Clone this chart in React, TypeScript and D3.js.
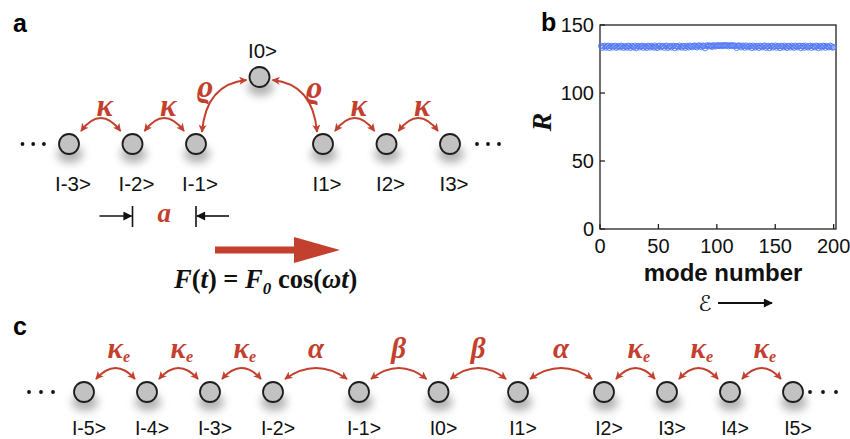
import * as d3 from "d3";

// ---- panel b data: R for each mode number ----
const rValues = [
  134.6, 133.2, 134.1, 134.7, 133.4, 134.3, 134.8, 133.1, 134.2, 134.6, 133.5, 134.4, 134.7, 133.3, 134.0, 134.5, 133.6, 134.8, 134.2, 133.2,
  134.5, 134.0, 133.4, 134.7, 134.3, 133.1, 134.6, 134.1, 133.5, 134.8, 133.0, 134.4, 134.6, 133.6, 134.2, 134.7, 133.3, 134.5, 134.0, 133.2,
  134.7, 134.3, 133.5, 134.6, 134.1, 133.4, 134.8, 134.0, 133.1, 134.5, 134.7, 133.6, 134.2, 134.6, 133.3, 134.4, 134.8, 133.2, 134.1, 134.6,
  133.5, 134.3, 134.7, 133.0, 134.5, 134.2, 133.6, 134.8, 134.0, 133.4, 134.6, 134.3, 133.2, 134.7, 134.1, 133.5, 134.8, 134.4, 133.7, 134.6,
  134.9, 134.2, 133.6, 134.7, 135.0, 134.3, 133.8, 134.9, 134.5, 133.0, 134.8, 135.0, 134.4, 134.9, 134.6, 133.9, 135.1, 134.7, 134.3, 135.0,
  134.8, 135.1, 134.5, 134.9, 135.0, 134.6, 135.2, 134.8, 135.0, 134.4, 135.1, 134.7, 134.9, 135.0, 134.5, 134.8, 133.1, 134.6, 135.0, 134.3,
  133.6, 134.8, 134.5, 133.3, 134.9, 134.2, 133.7, 134.7, 134.4, 133.1, 134.8, 134.0, 133.5, 134.6, 134.3, 133.2, 134.7, 134.1, 133.6, 134.5,
  134.8, 133.3, 134.2, 134.6, 133.0, 134.4, 134.7, 133.5, 134.1, 134.8, 133.4, 134.5, 134.2, 133.1, 134.7, 134.3, 133.6, 134.8, 134.0, 133.2,
  134.6, 134.4, 133.5, 134.7, 134.1, 133.3, 134.8, 134.2, 133.6, 134.5, 134.7, 133.1, 134.3, 134.6, 133.4, 134.8, 134.0, 133.5, 134.4, 134.7,
  133.2, 134.5, 134.1, 133.6, 134.8, 134.3, 133.0, 134.6, 134.2, 133.5, 134.7, 134.4, 133.3, 134.5, 134.0, 133.6, 134.8, 134.2, 133.4, 133.8,
];
const xTicks = [0, 50, 100, 150, 200];
const yTicks = [0, 50, 100, 150];

// ---- panel a: chain with a raised |0> site ----
const chainA = [-3, -2, -1, 1, 2, 3];
const couplingsA = [
  { from: -3, to: -2, label: "κ" },
  { from: -2, to: -1, label: "κ" },
  { from: 1, to: 2, label: "κ" },
  { from: 2, to: 3, label: "κ" },
];

// ---- panel c: chain with alpha / beta defects ----
const chainC = [-5, -4, -3, -2, -1, 0, 1, 2, 3, 4, 5];
const gapNames = ["κe", "κe", "κe", "α", "β", "β", "α", "κe", "κe", "κe"];

const RED = "#c4402e";
const BLUE = "#5479f5";
const SANS = "'Liberation Sans', Arial, sans-serif";
const SERIF = "'Liberation Serif', 'Times New Roman', serif";

const Node = ({ x, y }: { x: number; y: number }) => (
  <g>
    <ellipse cx={x + 1} cy={y + 10} rx={13} ry={9} fill="#808080" opacity={0.6} filter="url(#soft)" />
    <circle cx={x} cy={y} r={10} fill="#c2c2c2" stroke="#1e1e1e" strokeWidth={1.8} />
  </g>
);

const Dots = ({ x, y, step }: { x: number; y: number; step: number }) => (
  <g fill="#111">
    {[0, 1, 2].map((i) => (
      <circle key={i} cx={x + i * step} cy={y} r={1.9} />
    ))}
  </g>
);

const arcPath = (x0: number, y0: number, cx: number, cy: number, x1: number, y1: number) => {
  const p = d3.path();
  p.moveTo(x0, y0);
  p.quadraticCurveTo(cx, cy, x1, y1);
  return p.toString();
};

export default function App() {
  // panel a layout
  const xA = d3.scaleLinear().domain([-3, 3]).range([69, 450]);
  const yA = 144;
  const yA0 = 77;

  // panel c layout: cumulative gaps
  const gapPx: Record<string, number> = { κe: 63, α: 86, β: 79.5 };
  const posC: number[] = [84];
  gapNames.forEach((g) => posC.push(posC[posC.length - 1] + gapPx[g]));
  const yC = 392;

  // panel b scales
  const x = d3.scaleLinear().domain([0, 202]).range([600, 836]);
  const y = d3.scaleLinear().domain([0, 150]).range([229, 25]);
  const modes = d3.range(1, rValues.length + 1);

  const x0 = xA(0);

  return (
    <svg width={850} height={439} style={{ position: "absolute", left: 0, top: 0, background: "#fff" }}>
      <defs>
        <filter id="soft" x="-60%" y="-60%" width="220%" height="220%">
          <feGaussianBlur stdDeviation={4} />
        </filter>
        <marker id="ah" viewBox="0 0 10 10" refX={9} refY={5} markerWidth={9} markerHeight={8}
          markerUnits="userSpaceOnUse" orient="auto-start-reverse">
          <path d="M0,0 L10,5 L0,10 L2.5,5 z" fill={RED} />
        </marker>
        <marker id="ahk" viewBox="0 0 10 10" refX={9} refY={5} markerWidth={10} markerHeight={9}
          markerUnits="userSpaceOnUse" orient="auto">
          <path d="M0,0 L10,5 L0,10 z" fill="#111" />
        </marker>
      </defs>

      {/* ================= panel a ================= */}
      <text x={13} y={32} fontFamily={SANS} fontWeight="bold" fontSize={25}>a</text>

      {/* couplings */}
      <g fill="none" stroke={RED} strokeWidth={2}>
        {couplingsA.map((c, i) => {
          const a = xA(c.from), b = xA(c.to);
          return (
            <path key={i} d={arcPath(a + 12, yA - 13, (a + b) / 2, yA - 39, b - 12, yA - 13)}
              markerStart="url(#ah)" markerEnd="url(#ah)" />
          );
        })}
        <path d={arcPath(xA(-1) + 6, yA - 12, xA(-1) + 10, yA0 + 7, x0 - 13, yA0 + 3)}
          markerStart="url(#ah)" markerEnd="url(#ah)" />
        <path d={arcPath(x0 + 13, yA0 + 3, xA(1) - 10, yA0 + 7, xA(1) - 6, yA - 12)}
          markerStart="url(#ah)" markerEnd="url(#ah)" />
      </g>
      <g fill={RED} fontFamily={SERIF} fontWeight="bold" fontStyle="italic" fontSize={31} textAnchor="middle">
        {couplingsA.map((c, i) => (
          <text key={i} x={(xA(c.from) + xA(c.to)) / 2 + 4} y={116}>{c.label}</text>
        ))}
        <text x={205} y={97}>ϱ</text>
        <text x={314} y={98}>ϱ</text>
      </g>

      {chainA.map((i) => <Node key={i} x={xA(i)} y={yA} />)}
      <Node x={x0} y={yA0} />
      <Dots x={22.5} y={yA} step={10.7} />
      <Dots x={477} y={yA} step={11} />

      <g fontFamily={SANS} fontSize={20.5} textAnchor="middle" fill="#111">
        {chainA.map((i) => (
          <text key={i} x={xA(i) + 4} y={191}>{`I${i}>`}</text>
        ))}
        <text x={x0 + 3} y={58}>I0&gt;</text>
      </g>

      {/* lattice spacing a */}
      <g stroke="#111" strokeWidth={1.6}>
        <line x1={xA(-2)} x2={xA(-2)} y1={206} y2={227} />
        <line x1={xA(-1)} x2={xA(-1)} y1={206} y2={227} />
        <line x1={xA(-2) - 33} x2={xA(-2) - 1} y1={216} y2={216} markerEnd="url(#ahk)" />
        <line x1={xA(-1) + 33} x2={xA(-1) + 1} y1={216} y2={216} markerEnd="url(#ahk)" />
      </g>
      <text x={(xA(-2) + xA(-1)) / 2} y={222} textAnchor="middle" fill={RED}
        fontFamily={SERIF} fontStyle="italic" fontWeight="bold" fontSize={27}>a</text>

      {/* driving force arrow */}
      <path d="M215,246.5 L294,246.5 L294,237 L340,250 L294,263 L294,253.5 L215,253.5 Z" fill={RED} />
      <text x={174} y={288} fontFamily={SERIF} fontWeight="bold" fontSize={26.5} fill="#111">
        <tspan fontStyle="italic">F</tspan>(<tspan fontStyle="italic">t</tspan>) = <tspan fontStyle="italic">F</tspan>
        <tspan fontStyle="italic" fontSize={17} dy={6}>0</tspan>
        <tspan dy={-6}> cos(</tspan><tspan fontStyle="italic">ωt</tspan>)
      </text>

      {/* ================= panel b ================= */}
      <text x={541} y={31} fontFamily={SANS} fontWeight="bold" fontSize={25}>b</text>
      <rect x={x(0)} y={y(150)} width={x(202) - x(0)} height={y(0) - y(150)} fill="none" stroke="#222" strokeWidth={1.3} />
      <g stroke="#222" strokeWidth={1.3}>
        {xTicks.map((t) => <line key={t} x1={x(t)} x2={x(t)} y1={y(0)} y2={y(0) - 5} />)}
        {yTicks.map((t) => <line key={t} x1={x(0)} x2={x(0) + 5} y1={y(t)} y2={y(t)} />)}
      </g>
      <g fontFamily={SANS} fontSize={20} fill="#111">
        {xTicks.map((t) => (
          <text key={t} x={x(t)} y={253} textAnchor="middle">{t}</text>
        ))}
        {yTicks.map((t) => (
          <text key={t} x={594} y={y(t) + 7} textAnchor="end">{t}</text>
        ))}
      </g>
      <g fill="none" stroke={BLUE} strokeWidth={0.9}>
        {modes.map((m, i) => (
          <circle key={m} cx={x(m)} cy={y(rValues[i])} r={2.7} />
        ))}
      </g>
      <text transform="translate(551,122) rotate(-90)" textAnchor="middle" fontFamily={SERIF}
        fontWeight="bold" fontStyle="italic" fontSize={28} fill="#111">R</text>
      <text x={723} y={281} textAnchor="middle" fontFamily={SANS} fontWeight="bold" fontSize={24} fill="#111">
        mode number
      </text>
      <text x={705} y={311} textAnchor="middle" fontFamily="'DejaVu Sans', sans-serif" fontSize={22} fill="#111">ℰ</text>
      <line x1={718} x2={772} y1={303} y2={303} stroke="#111" strokeWidth={1.8} markerEnd="url(#ahk)" />

      {/* ================= panel c ================= */}
      <text x={13} y={335} fontFamily={SANS} fontWeight="bold" fontSize={25}>c</text>
      <g fill="none" stroke={RED} strokeWidth={2}>
        {gapNames.map((g, i) => {
          const a = posC[i], b = posC[i + 1];
          return (
            <path key={i} d={arcPath(a + 12, yC - 13, (a + b) / 2, yC - 35, b - 12, yC - 13)}
              markerStart="url(#ah)" markerEnd="url(#ah)" />
          );
        })}
      </g>
      <g fill={RED} fontFamily={SERIF} fontWeight="bold" fontStyle="italic" fontSize={29}>
        {gapNames.map((g, i) => {
          const mid = (posC[i] + posC[i + 1]) / 2;
          return g === "κe" ? (
            <text key={i} x={mid - 8} y={358}>κ<tspan fontSize={16} dy={4}>e</tspan></text>
          ) : (
            <text key={i} x={mid} y={358} textAnchor="middle">{g}</text>
          );
        })}
      </g>
      {chainC.map((n, i) => <Node key={n} x={posC[i]} y={yC} />)}
      <Dots x={29} y={yC} step={12} />
      <Dots x={posC[posC.length - 1] + 17} y={yC} step={13} />
      <g fontFamily={SANS} fontSize={19.5} textAnchor="middle" fill="#111">
        {chainC.map((n, i) => (
          <text key={n} x={posC[i] + 5} y={435}>{`I${n}>`}</text>
        ))}
      </g>
    </svg>
  );
}
